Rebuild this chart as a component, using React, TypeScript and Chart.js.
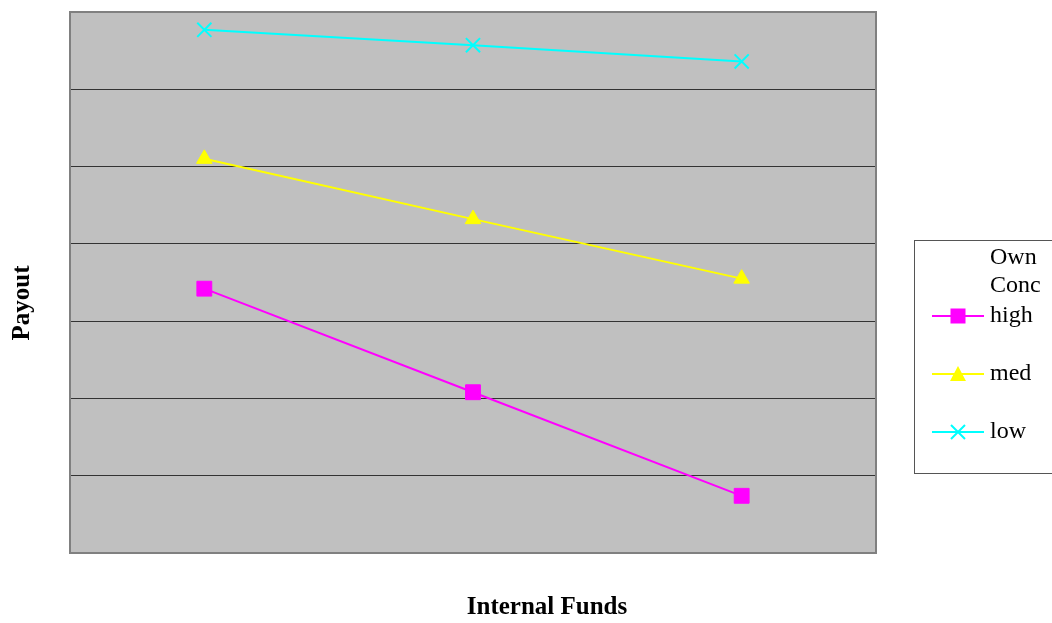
import React, { useEffect, useRef } from "react";
import { Chart, registerables } from "chart.js";

Chart.register(...registerables);

const categories = ["1", "2", "3"];
const highValues = [3.42, 2.08, 0.74];
const medValues = [5.1, 4.32, 3.55];
const lowValues = [6.77, 6.57, 6.36];
const seriesNames = ["high", "med", "low"];
const legendTitle = ["Own", "Conc"];
const xTitle = "Internal Funds";
const yTitle = "Payout";

const COLORS = ["#FF00FF", "#FFFF00", "#00FFFF"];
const SERIF = "'Liberation Serif', 'Times New Roman', serif";

function drawMarker(ctx: CanvasRenderingContext2D, kind: string, x: number, y: number, color: string) {
  ctx.save();
  ctx.fillStyle = color;
  ctx.strokeStyle = color;
  if (kind === "rect") {
    ctx.fillRect(x - 7.5, y - 7.5, 15, 15);
  } else if (kind === "triangle") {
    ctx.beginPath();
    ctx.moveTo(x, y - 8);
    ctx.lineTo(x + 8, y + 7);
    ctx.lineTo(x - 8, y + 7);
    ctx.closePath();
    ctx.fill();
  } else {
    ctx.lineWidth = 2;
    ctx.beginPath();
    ctx.moveTo(x - 7, y - 7);
    ctx.lineTo(x + 7, y + 7);
    ctx.moveTo(x + 7, y - 7);
    ctx.lineTo(x - 7, y + 7);
    ctx.stroke();
  }
  ctx.restore();
}

const framePlugin = {
  id: "frame",
  beforeDraw(chart: any) {
    const { ctx, chartArea: a } = chart;
    ctx.save();
    ctx.fillStyle = "#C0C0C0";
    ctx.fillRect(a.left, a.top, a.right - a.left, a.bottom - a.top);
    ctx.restore();
  },
  beforeDatasetsDraw(chart: any) {
    const { ctx, chartArea: a } = chart;
    ctx.save();
    ctx.strokeStyle = "#808080";
    ctx.lineWidth = 2;
    ctx.strokeRect(a.left, a.top, a.right - a.left, a.bottom - a.top);
    ctx.restore();
  },
  afterDraw(chart: any) {
    const { ctx } = chart;
    ctx.save();
    // axis titles
    ctx.fillStyle = "#000";
    ctx.font = `bold 25px ${SERIF}`;
    ctx.textAlign = "center";
    ctx.textBaseline = "middle";
    ctx.fillText(xTitle, 547, 608);
    ctx.save();
    ctx.translate(23, 303);
    ctx.rotate(-Math.PI / 2);
    ctx.fillText(yTitle, 0, 0);
    ctx.restore();

    // legend
    const bx = 914.5, by = 240.5, bw = 150, bh = 233;
    ctx.fillStyle = "#FFFFFF";
    ctx.fillRect(bx, by, bw, bh);
    ctx.strokeStyle = "#555";
    ctx.lineWidth = 1;
    ctx.strokeRect(bx, by, bw, bh);
    ctx.fillStyle = "#000";
    ctx.font = `24px ${SERIF}`;
    ctx.textAlign = "left";
    ctx.textBaseline = "middle";
    ctx.fillText(legendTitle[0], 990, 258);
    ctx.fillText(legendTitle[1], 990, 286);
    const ys = [316, 374, 432];
    const kinds = ["rect", "triangle", "crossRot"];
    chart.data.datasets.forEach((ds: any, i: number) => {
      const y = ys[i];
      ctx.strokeStyle = ds.borderColor;
      ctx.lineWidth = 2;
      ctx.beginPath();
      ctx.moveTo(932, y);
      ctx.lineTo(984, y);
      ctx.stroke();
      drawMarker(ctx, kinds[i], 958, y, ds.borderColor);
      ctx.fillStyle = "#000";
      ctx.fillText(ds.label, 990, y);
    });
    ctx.restore();
  },
};

export default function App() {
  const ref = useRef<HTMLCanvasElement | null>(null);
  useEffect(() => {
    if (!ref.current) return;
    const chart = new Chart(ref.current, {
      type: "line",
      data: {
        labels: categories,
        datasets: [
          {
            label: seriesNames[0],
            data: highValues,
            borderColor: COLORS[0],
            backgroundColor: COLORS[0],
            borderWidth: 2,
            pointStyle: "rect",
            pointRadius: 10.5,
            pointBorderWidth: 1,
          },
          {
            label: seriesNames[1],
            data: medValues,
            borderColor: COLORS[1],
            backgroundColor: COLORS[1],
            borderWidth: 2,
            pointStyle: "triangle",
            pointRadius: 9,
            pointBorderWidth: 1,
          },
          {
            label: seriesNames[2],
            data: lowValues,
            borderColor: COLORS[2],
            backgroundColor: COLORS[2],
            borderWidth: 2,
            pointStyle: "crossRot",
            pointRadius: 10,
            pointBorderWidth: 2,
          },
        ],
      },
      options: {
        animation: false,
        responsive: false,
        maintainAspectRatio: false,
        layout: { padding: { left: 70, top: 12, right: 176, bottom: 70 } },
        plugins: {
          legend: { display: false },
          tooltip: { enabled: false },
          title: { display: false },
        },
        scales: {
          x: {
            type: "category",
            offset: true,
            grid: { display: false, drawTicks: false },
            border: { display: false },
            ticks: { display: false },
            afterFit: (s: any) => { s.height = 0; },
          },
          y: {
            min: 0,
            max: 7,
            ticks: { display: false, stepSize: 1 },
            grid: { color: "#333333", lineWidth: 1, drawTicks: false },
            border: { display: false },
            afterFit: (s: any) => { s.width = 0; },
          },
        },
      },
      plugins: [framePlugin],
    });
    return () => chart.destroy();
  }, []);
  return (
    <div style={{ position: "fixed", left: 0, top: 0, width: 1052, height: 623, background: "#fff" }}>
      <canvas ref={ref} width={1052} height={623} style={{ display: "block" }} />
    </div>
  );
}
